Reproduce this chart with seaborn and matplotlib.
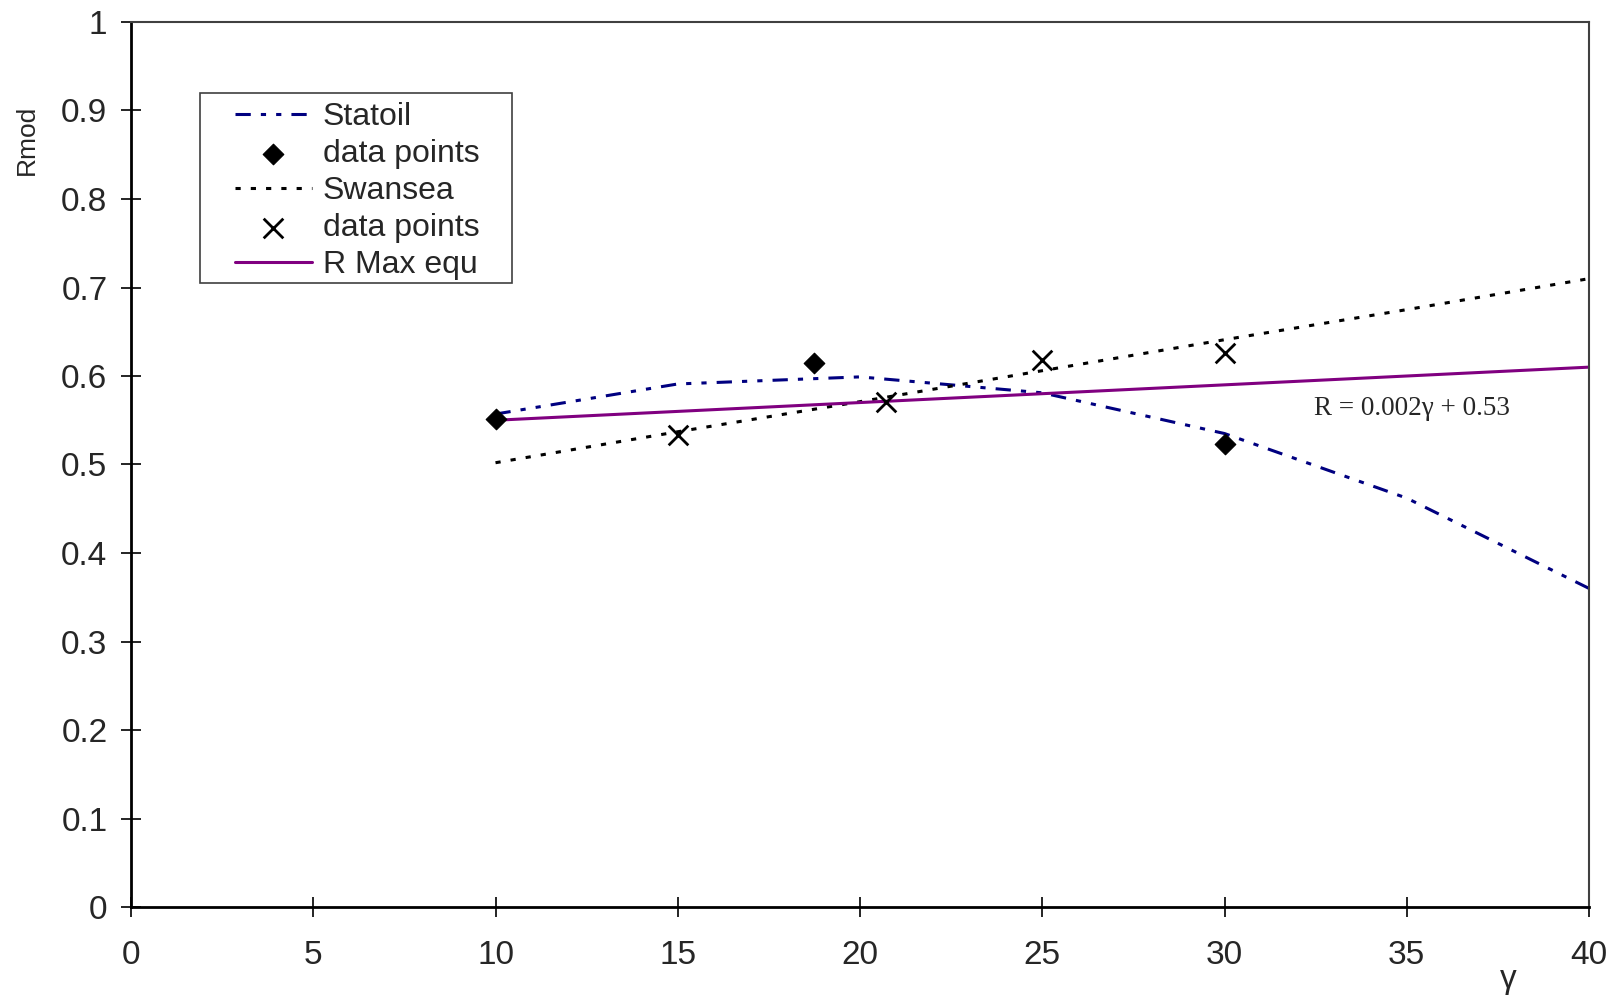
import numpy as np
import pandas as pd
import seaborn as sns
import matplotlib.pyplot as plt
from matplotlib.patches import Rectangle

# data
gamma_line = [10, 15, 20, 25, 30, 35, 40]
statoil = [0.557, 0.591, 0.599, 0.581, 0.535, 0.462, 0.360]
swansea = [0.502, 0.537, 0.571, 0.606, 0.641, 0.675, 0.710]

statoil_pts_x = [10, 18.75, 30]
statoil_pts_y = [0.551, 0.615, 0.523]

swansea_pts_x = [15, 20.7, 25, 30]
swansea_pts_y = [0.533, 0.571, 0.618, 0.626]

rmax_x = [10, 40]
rmax_y = [0.550, 0.610]

xticks = [0, 5, 10, 15, 20, 25, 30, 35, 40]
yticks = [0, 0.1, 0.2, 0.3, 0.4, 0.5, 0.6, 0.7, 0.8, 0.9, 1]
ytick_labels = ['0', '0.1', '0.2', '0.3', '0.4', '0.5', '0.6', '0.7', '0.8', '0.9', '1']

sns.set_style('white')
plt.rcParams['font.family'] = ['Liberation Sans', 'DejaVu Sans']

fig = plt.figure(figsize=(16.18, 9.97), dpi=100)
ax = fig.add_axes([131 / 1618, 1 - 907 / 997, (1589 - 131) / 1618, (907 - 22) / 997])

sns.lineplot(x=gamma_line, y=statoil, ax=ax, color='#000080', lw=2.2,
             dashes=False, label='Statoil')
ax.lines[-1].set_dashes([5, 3.3, 1.7, 3.3, 1.7, 3.3])
sns.scatterplot(x=statoil_pts_x, y=statoil_pts_y, ax=ax, marker='D', s=110,
                color='black', edgecolor='black', label='data points', zorder=5)
sns.lineplot(x=gamma_line, y=swansea, ax=ax, color='black', lw=2.2, label='Swansea')
ax.lines[-1].set_dashes([1.7, 3.3])
sns.scatterplot(x=swansea_pts_x, y=swansea_pts_y, ax=ax, marker='x', s=200,
                color='black', linewidth=2, label='data points', zorder=5)
sns.lineplot(x=rmax_x, y=rmax_y, ax=ax, color='#800080', lw=2.2, label='R Max equ')

ax.text(32.45, 0.563, 'R = 0.002\u03b3 + 0.53', family=['Liberation Serif', 'DejaVu Serif'],
        fontsize=19.5, va='center', ha='left')

ax.set_xlim(0, 40)
ax.set_ylim(0, 1)
ax.set_xticks(xticks)
ax.set_yticks(yticks)
ax.set_yticklabels(ytick_labels)
ax.tick_params(axis='both', direction='inout', length=14, width=1.2, labelsize=24,
               color='black', left=True, bottom=True)
ax.tick_params(axis='x', pad=17)
ax.tick_params(axis='y', pad=10)

for s in ['left', 'bottom']:
    ax.spines[s].set_color('black')
    ax.spines[s].set_linewidth(2)
for s in ['top', 'right']:
    ax.spines[s].set_color('#404040')
    ax.spines[s].set_linewidth(1.5)

ax.set_xlabel('')
ax.set_ylabel('')
fig.text(27 / 1618, 1 - 140 / 997, 'Rmod', rotation=90, fontsize=19, ha='center', va='center')
fig.text(1508 / 1618, 1 - 979 / 997, '\u03b3', fontsize=24, ha='center', va='center')

# legend box drawn as its own frame
ax.add_patch(Rectangle(((200 - 131) / 1458, (907 - 283) / 885), (512 - 200) / 1458,
                       (283 - 93) / 885, transform=ax.transAxes, fill=True,
                       facecolor='white', edgecolor='#404040', lw=1.2, zorder=6))
leg = ax.legend(loc='upper left', bbox_to_anchor=((235 - 131) / 1458, (907 - 102) / 885),
                borderaxespad=0, borderpad=0, fontsize=23, handlelength=2.4,
                labelspacing=0.22, handletextpad=0.35, frameon=False)
leg.set_zorder(7)

fig.savefig('out.png', dpi=100)
